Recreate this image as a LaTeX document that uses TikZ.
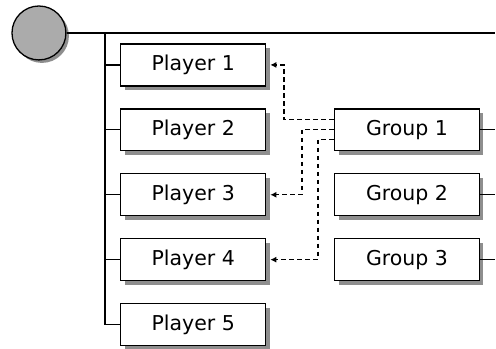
\documentclass[tikz,border=0pt]{standalone}
\usepackage{fontspec}
\setmainfont{DejaVu Sans}
\usetikzlibrary{shadows,arrows.meta}
\definecolor{boxShadowGray}{HTML}{8E8E8E}
\definecolor{rootGray}{HTML}{ABABAB}

\begin{document}
\begin{tikzpicture}[x=1pt, y=-1pt, line width=1.3pt,
    every node/.style={font=\fontsize{20.5}{24}\selectfont},
    boxnode/.style={draw, fill=white, minimum width=145pt, minimum height=42pt, inner sep=0pt,
      drop shadow={shadow xshift=4pt, shadow yshift=-4pt, fill=boxShadowGray, opacity=1}},
    linkline/.style={dash pattern=on 4.5pt off 3.5pt, line width=1.2pt, -{Latex[length=6pt,width=6pt]}}]
  \fill[white] (0,0) rectangle (496,349);
  \node[circle, draw, fill=rootGray, minimum size=54pt, inner sep=0pt,
    drop shadow={shadow xshift=3pt, shadow yshift=-3pt, fill=boxShadowGray, opacity=1}] (root) at (39,33) {};
  \coordinate (topend) at (496,33);
  \coordinate (trunk) at (105,33);
  \draw (root.east) -- (topend);
  \foreach \i/\y in {1/65,2/130,3/195,4/260,5/325}{
    \node[boxnode] (p\i) at (193.5,\y) {Player \i};
    \draw (trunk |- p\i.west) -- (p\i.west);
  }
  \draw (trunk) -- (trunk |- p5.west);
  \foreach \i/\y in {1/130,2/195,3/260}{
    \node[boxnode] (g\i) at (407.5,\y) {Group \i};
    \coordinate (gend\i) at (496,\y);
    \draw (g\i.east) -- (gend\i);
  }
  \draw[linkline] ([yshift=10pt]g1.west) -- ++(-50,0) |- ([xshift=4pt]p1.east);
  \draw[linkline] (g1.west) -- ++(-32,0) |- ([xshift=4pt]p3.east);
  \draw[linkline] ([yshift=-10pt]g1.west) -- ++(-16,0) |- ([xshift=4pt]p4.east);
\end{tikzpicture}
\end{document}
